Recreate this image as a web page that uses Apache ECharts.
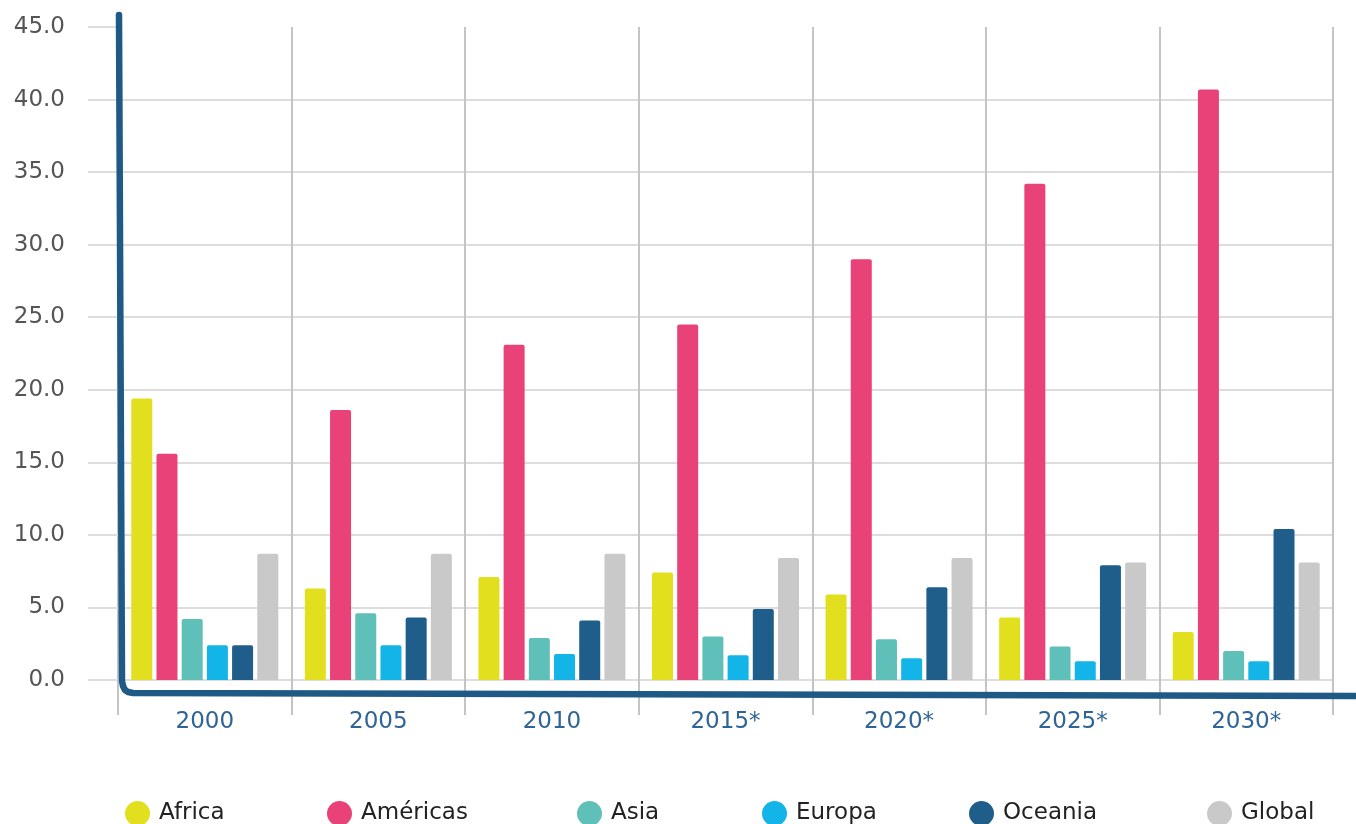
<!DOCTYPE html>
<html><head><meta charset="utf-8">
<script src="https://cdn.jsdelivr.net/npm/echarts@6/dist/echarts.min.js"></script>
<style>html,body{margin:0;padding:0;background:#fff}#c{width:1356px;height:824px}</style>
</head><body><div id="c"></div>
<script>
const years = ['2000','2005','2010','2015*','2020*','2025*','2030*'];
const africa   = [19.4, 6.3, 7.1, 7.4, 5.9, 4.3, 3.3];
const americas = [15.6, 18.6, 23.1, 24.5, 29.0, 34.2, 40.7];
const asia     = [4.2, 4.6, 2.9, 3.0, 2.8, 2.3, 2.0];
const europa   = [2.4, 2.4, 1.8, 1.7, 1.5, 1.3, 1.3];
const oceania  = [2.4, 4.3, 4.1, 4.9, 6.4, 7.9, 10.4];
const global   = [8.7, 8.7, 8.7, 8.4, 8.4, 8.1, 8.1];
const seriesNames = ['Africa','Américas','Asia','Europa','Oceania','Global'];
const seriesData = [africa, americas, asia, europa, oceania, global];
const colors = ['#e2df1e','#e84278','#5fc0b9','#13b5e8','#1f5e8a','#c9c9c9'];
const legendLeft = [120, 322, 572, 757, 964, 1202];

const font = 'DejaVu Sans';
const gridLeft = 118, gridTop = 27;
const chart = echarts.init(document.getElementById('c'));
chart.setOption({
  animation:false,
  color: colors,
  textStyle:{fontFamily:font},
  grid:{left:gridLeft, right:23, top:gridTop, bottom:144},
  legend: seriesNames.map((n,i)=>({
    left:legendLeft[i], top:796, itemWidth:25, itemHeight:25, itemGap:0, icon:'circle',
    textStyle:{fontFamily:font, fontSize:23, color:'#222', padding:[0,0,0,4]},
    data:[n]
  })),
  xAxis:[{
    type:'category', data:years, offset:13,
    axisLine:{show:false, onZero:false},
    axisTick:{show:false},
    axisLabel:{color:'#2f6496', fontSize:23, margin:18, fontFamily:font},
    splitLine:{show:true, lineStyle:{color:'#c4c4c4', width:2}}
  },{
    type:'category', data:years, position:'bottom',
    axisLine:{show:false, onZero:false},
    axisTick:{show:true, length:35, lineStyle:{color:'#c4c4c4', width:2}},
    axisLabel:{show:false},
    splitLine:{show:false}
  }],
  yAxis:{
    type:'value', min:0, max:45, interval:5,
    axisLine:{show:false},
    axisTick:{show:true, length:30, lineStyle:{color:'#dddddd', width:2}},
    axisLabel:{color:'#555', fontSize:23, margin:53, fontFamily:font, formatter:v=>v.toFixed(1)},
    splitLine:{show:true, showMaxLine:false, lineStyle:{color:'#dddddd', width:2}}
  },
  series: seriesNames.map((n,i)=>({
    name:n, type:'bar', data:seriesData[i], barWidth:21, barGap:'20%',
    itemStyle:{borderRadius:[2,2,0,0]}
  }))
});
// decorative hand-drawn style axis frame, positioned from the axis scale
const y0 = chart.convertToPixel({yAxisIndex:0}, 0);
const yTop = chart.convertToPixel({yAxisIndex:0}, 45);
const ax = gridLeft + 1, ay = y0 + 13, W = chart.getWidth();
chart.setOption({
  graphic:[{
    type:'polyline', z:10,
    shape:{points:[[ax, yTop-12],[ax+3, ay-12],[ax+4, ay-7],[ax+6, ay-3],[ax+9, ay-1],[ax+14, ay],[W, ay+3]]},
    style:{fill:null, stroke:'#1f5a86', lineWidth:6.5, lineCap:'round', lineJoin:'round'}
  }]
});
</script></body></html>
